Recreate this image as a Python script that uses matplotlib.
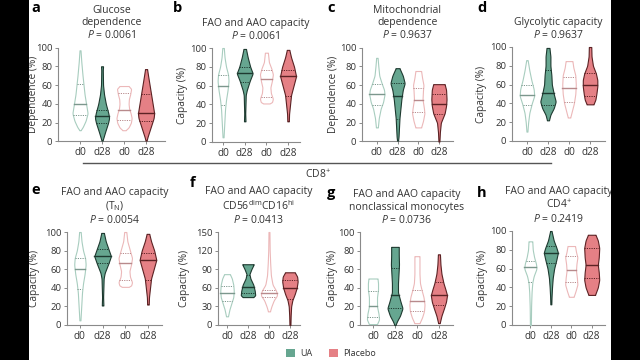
import numpy as np
import matplotlib
matplotlib.use("Agg")
import matplotlib.pyplot as plt
from matplotlib.patches import Rectangle

plt.rcParams['font.family'] = ['Open Sans', 'DejaVu Sans']
plt.rcParams['mathtext.fontset'] = 'custom'
plt.rcParams['mathtext.rm'] = 'Open Sans'
plt.rcParams['mathtext.it'] = 'Open Sans:italic'

groups = ['d0', 'd28', 'd0', 'd28']

# violin outlines: (value, half width) from top to bottom
# and (lower quartile, median, upper quartile) for each violin
glucose_profiles = [
    [(97, .02), (85, .05), (70, .10), (60, .14), (50, .18), (40, .24), (30, .30), (22, .22), (15, .10), (12, .02)],
    [(80, .04), (76, .03), (60, .04), (50, .08), (40, .15), (30, .25), (25, .28), (20, .24), (10, .12), (1, .02)],
    [(59, .18), (56, .28), (50, .24), (45, .19), (40, .18), (35, .20), (30, .26), (25, .30), (20, .27), (15, .18), (12, .06)],
    [(77, .04), (70, .08), (60, .14), (50, .20), (40, .26), (30, .32), (25, .30), (15, .18), (5, .06), (1, .02)],
]
glucose_quart = [(28, 40, 61), (20, 27, 33), (23, 33, 52), (22, 30, 51)]

fao_profiles = [
    [(100, .03), (90, .06), (80, .12), (72, .20), (65, .22), (55, .18), (45, .12), (35, .08), (20, .05), (5, .02)],
    [(99, .05), (90, .12), (80, .22), (73, .32), (65, .20), (55, .08), (50, .04), (40, .03), (30, .02), (22, .03)],
    [(95, .06), (85, .10), (78, .20), (72, .26), (65, .22), (58, .16), (52, .18), (46, .26), (42, .22), (41, .10)],
    [(98, .05), (90, .12), (80, .24), (70, .32), (62, .24), (50, .12), (40, .08), (30, .04), (22, .03)],
]
fao_quart = [(39, 60, 71), (64, 73, 80), (48, 67, 77), (49, 70, 77)]

mito_profiles = [
    [(89, .03), (80, .06), (70, .10), (62, .20), (55, .30), (50, .32), (42, .26), (35, .16), (25, .08), (15, .04)],
    [(78, .08), (70, .22), (62, .30), (55, .22), (45, .16), (35, .12), (25, .08), (15, .06), (5, .04), (1, .02)],
    [(75, .12), (68, .16), (60, .22), (55, .20), (45, .18), (35, .24), (30, .26), (22, .20), (15, .12)],
    [(61, .24), (55, .30), (45, .32), (38, .30), (30, .24), (20, .08), (10, .04), (0, .02)],
]
mito_quart = [(39, 51, 61), (24, 48, 62), (31, 44, 57), (29, 40, 51)]

glyco_profiles = [
    [(86, .03), (75, .10), (65, .18), (55, .28), (48, .30), (40, .20), (30, .10), (20, .05), (10, .02)],
    [(99, .06), (90, .10), (80, .10), (70, .14), (60, .16), (50, .24), (42, .32), (35, .24), (28, .10), (22, .04)],
    [(85, .14), (78, .18), (70, .26), (60, .28), (50, .26), (40, .20), (32, .12), (25, .05)],
    [(100, .05), (90, .06), (80, .12), (72, .24), (65, .30), (58, .30), (50, .26), (44, .22), (39, .14)],
]
glyco_quart = [(38, 49, 60), (38, 51, 75), (42, 56, 68), (48, 60, 72)]

tn_profiles = [
    [(100, .03), (90, .06), (80, .12), (72, .20), (65, .22), (55, .18), (45, .12), (35, .08), (20, .05), (5, .02)],
    [(99, .05), (90, .12), (82, .22), (74, .32), (66, .22), (56, .08), (50, .04), (40, .03), (30, .02), (21, .03)],
    [(100, .04), (90, .08), (80, .18), (72, .26), (65, .22), (58, .16), (52, .18), (46, .26), (42, .22), (41, .10)],
    [(98, .05), (90, .12), (80, .24), (70, .32), (62, .24), (50, .12), (40, .08), (30, .04), (22, .03)],
]
tn_quart = [(39, 60, 72), (67, 74, 82), (48, 67, 77), (48, 70, 77)]

nk_profiles = [
    [(82, .12), (75, .20), (65, .26), (55, .28), (45, .26), (35, .18), (25, .10), (14, .04)],
    [(98, .24), (90, .14), (82, .06), (75, .10), (65, .22), (55, .28), (48, .30), (45, .22)],
    [(150, .02), (120, .03), (100, .05), (80, .08), (65, .15), (55, .30), (48, .34), (40, .20), (30, .10), (22, .04)],
    [(85, .20), (78, .30), (70, .32), (60, .28), (50, .20), (40, .10), (30, .05), (15, .03), (0, .02)],
]
nk_quart = [(38, 52, 63), (52, 62, 80), (45, 52, 57), (42, 60, 73)]

mono_profiles = [
    [(50, .18), (45, .20), (38, .20), (30, .16), (20, .16), (12, .22), (6, .24), (1, .16)],
    [(84, .15), (75, .15), (65, .16), (55, .14), (45, .12), (35, .12), (25, .22), (18, .30), (10, .20), (4, .08), (0, .02)],
    [(74, .10), (65, .10), (55, .10), (45, .12), (38, .18), (30, .26), (22, .30), (15, .28), (8, .20), (2, .10)],
    [(76, .04), (65, .06), (55, .10), (45, .18), (38, .26), (32, .32), (25, .28), (18, .20), (10, .10), (2, .03)],
]
mono_quart = [(9, 20, 37), (18, 32, 61), (15, 26, 38), (21, 32, 46)]

cd4_profiles = [
    [(89, .08), (80, .10), (72, .16), (65, .24), (60, .26), (52, .14), (45, .08), (35, .05), (20, .03), (0, .02)],
    [(100, .03), (90, .12), (82, .24), (77, .30), (70, .24), (60, .14), (50, .08), (40, .05), (30, .03), (22, .02)],
    [(84, .16), (78, .20), (72, .26), (65, .22), (58, .20), (50, .24), (43, .26), (36, .18), (30, .10)],
    [(96, .16), (90, .26), (82, .32), (72, .30), (64, .26), (56, .30), (48, .32), (40, .26), (32, .14)],
]
cd4_quart = [(46, 62, 68), (66, 77, 84), (46, 59, 73), (50, 64, 82)]

face = ['white', '#66a690', 'white', '#e58085']
edge = ['#a8cdbf', '#1e3a30', '#ecb8b9', '#5c2224']
mid = ['#7c978d', '#1e3a30', '#b88a8c', '#5c2224']


def violin(ax, x, profile, quart, i):
    yp = np.array([p[0] for p in profile], float)[::-1]
    wp = np.array([p[1] for p in profile], float)[::-1] * 1.15
    ys = np.linspace(yp[0], yp[-1], 300)
    w = np.interp(ys, yp, wp)
    k = np.ones(11) / 11
    w = np.convolve(np.pad(w, 5, mode='edge'), k, mode='valid')
    ax.fill_betweenx(ys, x - w, x + w, facecolor=face[i], edgecolor=edge[i],
                     lw=0.8, clip_on=False, zorder=3)
    for j, q in enumerate(quart):
        hw = np.interp(q, ys, w)
        ax.plot([x - hw, x + hw], [q, q], color=mid[i],
                lw=1.0 if j == 1 else 0.7, ls='-' if j == 1 else (0, (1.2, 1.2)),
                zorder=4, clip_on=False)


fig = plt.figure(figsize=(6.4, 3.6), dpi=100)

def px(x0, y0, x1, y1):
    return [x0 / 640, 1 - y1 / 360, (x1 - x0) / 640, (y1 - y0) / 360]

# letter, axes box, xlim, ymax, ylabel, profiles, quartiles, title, letter pos, ylabel centre x (px)
panels = [
    ('a', (58, 47.5, 165, 141.5), (0, 4.86), 100, 'Dependence (%)', glucose_profiles, glucose_quart,
     'Glucose\ndependence\n$P$ = 0.0061', (31, 8), 34),
    ('b', (212, 48, 300, 142), (0.49, 4.55), 100, 'Capacity (%)', fao_profiles, fao_quart,
     'FAO and AAO capacity\n$P$ = 0.0061', (173, 8), 183),
    ('c', (362, 47.5, 453, 141.5), (0.28, 4.68), 100, 'Dependence (%)', mito_profiles, mito_quart,
     'Mitochondrial\ndependence\n$P$ = 0.9637', (327, 8), 334),
    ('d', (512, 47, 605, 141), (0.29, 4.71), 100, 'Capacity (%)', glyco_profiles, glyco_quart,
     'Glycolytic capacity\n$P$ = 0.9637', (477, 8), 482),
    ('e', (67, 232, 162, 325), (0.43, 4.62), 100, 'Capacity (%)', tn_profiles, tn_quart,
     'FAO and AAO capacity\n(T$_{\\mathrm{N}}$)\n$P$ = 0.0054', (31, 190), 35),
    ('f', (218, 232, 300, 325), (0.57, 4.48), 150, 'Capacity (%)', nk_profiles, nk_quart,
     'FAO and AAO capacity\nCD56$^{\\mathrm{dim}}$CD16$^{\\mathrm{hi}}$\n$P$ = 0.0413', (190, 183), 185),
    ('g', (360, 232, 453, 325), (0.41, 4.64), 100, 'Capacity (%)', mono_profiles, mono_quart,
     'FAO and AAO capacity\nnonclassical monocytes\n$P$ = 0.0736', (327, 193), 333),
    ('h', (512, 231, 605, 325), (0.1, 4.65), 100, 'Capacity (%)', cd4_profiles, cd4_quart,
     'FAO and AAO capacity\nCD4$^{+}$\n$P$ = 0.2419', (477, 193), 483),
]

for letter, box, xlim, ymax, ylabel, profiles, quarts, title, lpos, labx in panels:
    rect = px(*box)
    ax = fig.add_axes(rect)
    for i in range(4):
        violin(ax, i + 1, profiles[i], quarts[i], i)
    ax.set_xlim(*xlim)
    ax.set_ylim(0, ymax)
    ax.set_yticks(np.linspace(0, ymax, 6))
    ax.set_xticks([1, 2, 3, 4])
    ax.set_xticklabels(groups)
    for s in ['top', 'right']:
        ax.spines[s].set_visible(False)
    for s in ['left', 'bottom']:
        ax.spines[s].set_color('#8a8a8a')
        ax.spines[s].set_linewidth(0.8)
    ax.tick_params(colors='#8a8a8a', labelcolor='#333333', labelsize=6.8, length=2, width=0.7, pad=2)
    ax.tick_params(axis='x', labelsize=7.2)
    ax.set_ylabel(ylabel, fontsize=7.3, color='#333333')
    # label anchor is its right edge; shift so the text is centred on labx
    ax.yaxis.set_label_coords((labx + 5 - box[0]) / (box[2] - box[0]), 0.5)
    ax.set_facecolor('none')
    cx = rect[0] + rect[2] / 2
    top = rect[1] + rect[3]
    fig.text(cx, top + 6 / 360, title, ha='center', va='bottom', fontsize=7.5,
             color='#333333', linespacing=1.15)
    fig.text(lpos[0] / 640, 1 - lpos[1] / 360, letter, ha='left', va='center',
             fontsize=10.5, fontweight='bold', color='black')

# CD8+ bracket line
fig.add_artist(plt.Line2D([83 / 640, 551 / 640], [1 - 163 / 360] * 2, color='#555555', lw=1.0))
fig.text(318 / 640, 1 - 175 / 360, 'CD8$^{+}$', ha='center', va='center', fontsize=7.5, color='#333333')

# legend
for x0, col, lab in [(286, face[1], 'UA'), (329, face[3], 'Placebo')]:
    fig.add_artist(Rectangle((x0 / 640, 1 - 357 / 360), 9 / 640, 8 / 360, facecolor=col,
                             edgecolor='none', transform=fig.transFigure))
    fig.text((x0 + 14) / 640, 1 - 353 / 360, lab, ha='left', va='center', fontsize=6.5, color='#333333')

# black side bars of the original screenshot
fig.add_artist(Rectangle((0, 0), 29 / 640, 1, facecolor='black', edgecolor='none',
                         transform=fig.transFigure, zorder=10))
fig.add_artist(Rectangle((611 / 640, 0), 29 / 640, 1, facecolor='black', edgecolor='none',
                         transform=fig.transFigure, zorder=10))

fig.savefig('out.png', dpi=100)
